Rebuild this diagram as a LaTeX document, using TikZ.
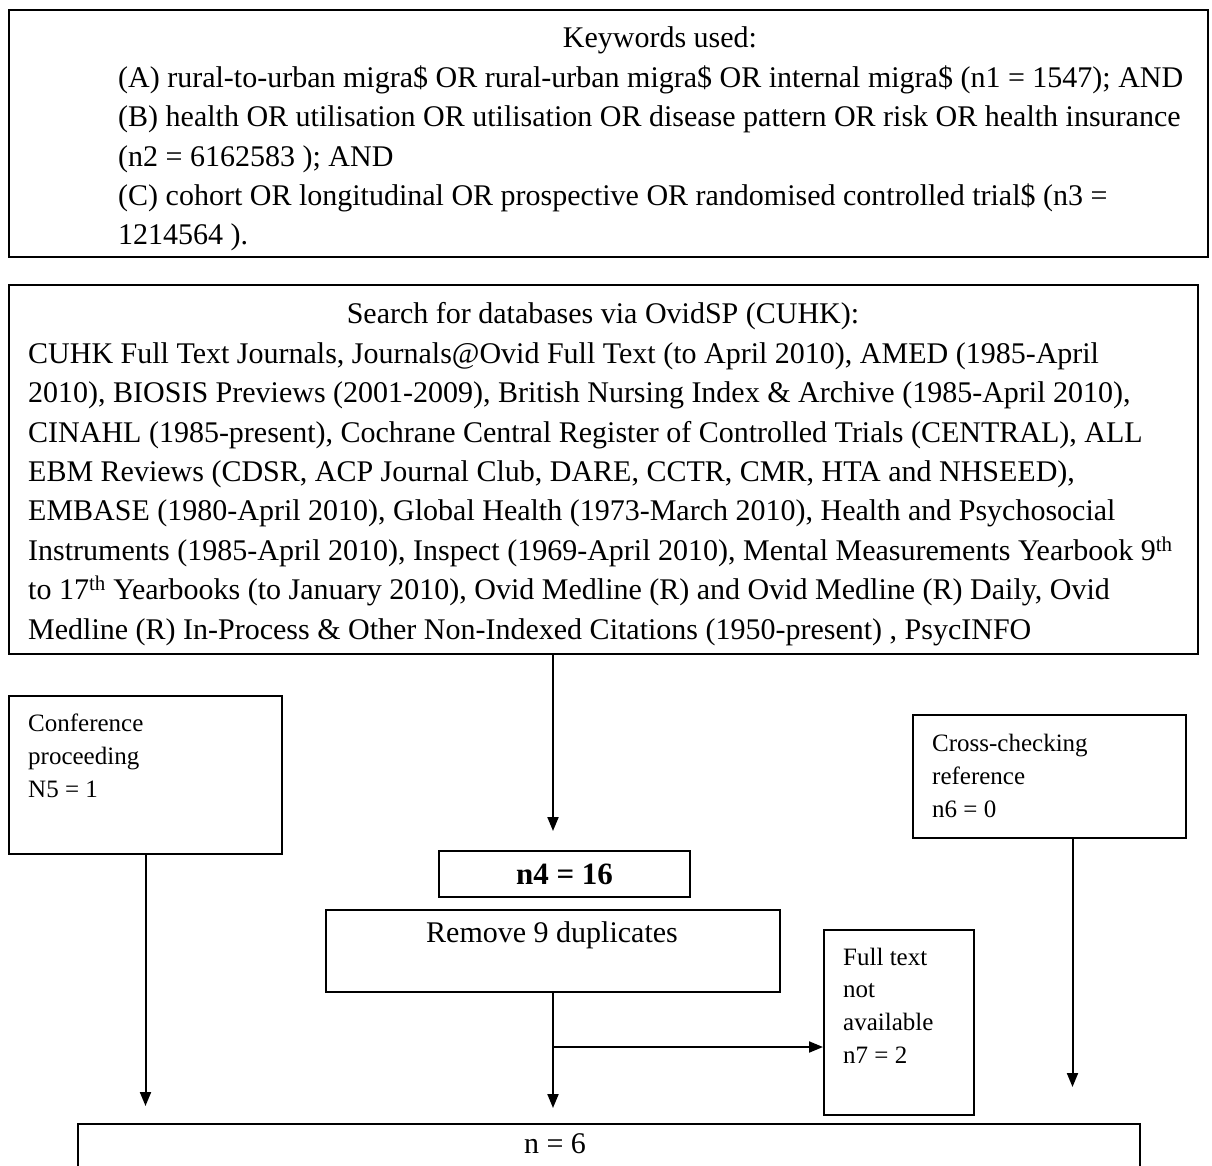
\documentclass[tikz,border=0pt]{standalone}
\usepackage{fontspec}
\setmainfont{Liberation Serif}
\usetikzlibrary{arrows.meta}

\tikzset{
  frame/.style    = {draw, line width=2pt, inner sep=0pt, anchor=north west},
  bigtxt/.style   = {font=\fontsize{30}{39.4}\selectfont, inner sep=0pt, align=left},
  smalltxt/.style = {font=\fontsize{25}{32.6}\selectfont, inner sep=0pt, align=left},
  arr/.style      = {-{Triangle[length=14pt,width=11pt]}, line width=2pt}
}

\begin{document}
\begin{tikzpicture}[x=1pt, y=-1pt]

% Page of the size of the scanned figure (1 unit = 1 pixel)
\useasboundingbox (0,0) rectangle (1212,1166);
\clip (0,0) rectangle (1212,1166);

% The frames of the flow chart
\node[frame, minimum width=1199, minimum height=247] (keys)   at (8,9)     {};
\node[frame, minimum width=1189, minimum height=369] (search) at (8,284)   {};
\node[frame, minimum width=273,  minimum height=158] (conf)   at (8,695)   {};
\node[frame, minimum width=273,  minimum height=123] (cross)  at (912,714) {};
\node[frame, minimum width=251,  minimum height=46,
      font=\fontsize{31}{36}\selectfont\bfseries]     (n4)     at (438,850) {n4 = 16};
\node[frame, minimum width=454,  minimum height=82]  (remove) at (325,909) {};
\node[frame, minimum width=150,  minimum height=185] (full)   at (823,929) {};
\node[frame, minimum width=1062, minimum height=120] (final)  at (77,1123) {};

% Keywords box (base of a multi-line node = its last line)
\node[bigtxt, anchor=base] (keys-head) at (660,48) {Keywords used:};
\node[bigtxt, anchor=base west] (keys-body) at (118,245)
  {(A) rural-to-urban migra\$ OR rural-urban migra\$ OR internal migra\$ (n1 = 1547); AND\\
   (B) health OR utilisation OR utilisation OR disease pattern OR risk OR health insurance\\
   (n2 = 6162583 ); AND\\
   (C) cohort OR longitudinal OR prospective OR randomised controlled trial\$ (n3 =\\
   1214564 ).};

% Databases box
\node[bigtxt, anchor=base] (search-head) at (603,323)
  {Search for databases via OvidSP (CUHK):};
\node[bigtxt, anchor=base west] (search-body) at (28,639)
  {CUHK Full Text Journals, Journals@Ovid Full Text (to April 2010), AMED (1985-April\\
   2010), BIOSIS Previews (2001-2009), British Nursing Index \& Archive (1985-April 2010),\\
   CINAHL (1985-present), Cochrane Central Register of Controlled Trials (CENTRAL), ALL\\
   EBM Reviews (CDSR, ACP Journal Club, DARE, CCTR, CMR, HTA and NHSEED),\\
   EMBASE (1980-April 2010), Global Health (1973-March 2010), Health and Psychosocial\\
   Instruments (1985-April 2010), Inspect (1969-April 2010), Mental Measurements Yearbook 9\textsuperscript{th}\\
   to 17\textsuperscript{th} Yearbooks (to January 2010), Ovid Medline (R) and Ovid Medline (R) Daily, Ovid\\
   Medline (R) In-Process \& Other Non-Indexed Citations (1950-present) , PsycINFO};

% Side boxes and the lower boxes
\node[smalltxt, anchor=base west] (conf-t)  at (28,797)  {Conference\\proceeding\\N5 = 1};
\node[smalltxt, anchor=base west] (cross-t) at (932,817) {Cross-checking\\reference\\n6 = 0};
\node[smalltxt, anchor=base west] (full-t)  at (843,1063) {Full text\\not\\available\\n7 = 2};
\node[bigtxt, anchor=base] (remove-t) at (552,942)  {Remove 9 duplicates};
\node[bigtxt, anchor=base] (final-t)  at (555,1153) {n = 6};

% Connectors
\path (remove.south) ++(0,54) coordinate (split);
\draw[arr, shorten >=19pt] (search.south -| remove.north) -- (n4.north -| remove.north);
\draw[arr, shorten >=17pt] (conf.south) -- (conf.south |- final.north);
\draw[arr, shorten >=36pt] ([xshift=23pt]cross.south) -- ([xshift=23pt]cross.south |- final.north);
\draw[arr, shorten >=15pt] (remove.south) -- (remove.south |- final.north);
\draw[arr] (split) -- (split -| full.west);

\end{tikzpicture}
\end{document}
